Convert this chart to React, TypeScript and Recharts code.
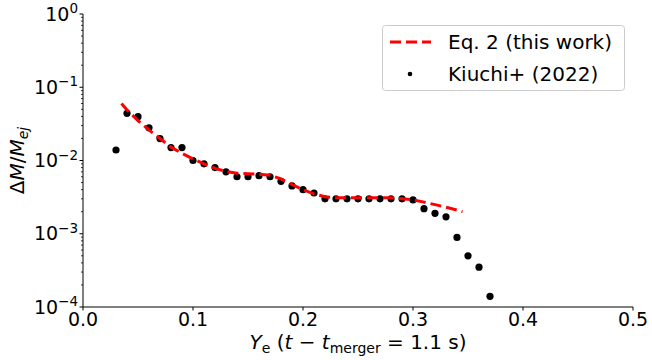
import { ComposedChart, Scatter, XAxis, YAxis, Legend } from 'recharts'

// Kiuchi+ (2022) mass fraction per Ye bin
const kiuchiYe = [
  0.03, 0.04, 0.05, 0.06, 0.07, 0.08, 0.09, 0.1, 0.11, 0.12, 0.13, 0.14, 0.15, 0.16, 0.17, 0.18, 0.19, 0.2,
  0.21, 0.22, 0.23, 0.24, 0.25, 0.26, 0.27, 0.28, 0.29, 0.3, 0.31, 0.32, 0.33, 0.34, 0.35, 0.36, 0.37,
]
const kiuchiFrac = [
  0.0139, 0.044, 0.0396, 0.028, 0.0199, 0.015, 0.015, 0.01, 0.009, 0.008, 0.007, 0.006, 0.006, 0.0062, 0.006,
  0.0052, 0.0045, 0.004, 0.0036, 0.003, 0.003, 0.003, 0.003, 0.003, 0.003, 0.003, 0.003, 0.0029, 0.0022,
  0.0019, 0.0017, 0.00089, 0.0005, 0.00035, 0.00014,
]

// Eq. 2 fit
const fitYe = [
  0.035, 0.04, 0.05, 0.06, 0.07, 0.08, 0.09, 0.1, 0.11, 0.12, 0.13, 0.14, 0.15, 0.16, 0.17, 0.18, 0.19, 0.2,
  0.21, 0.22, 0.23, 0.24, 0.25, 0.26, 0.27, 0.28, 0.29, 0.3, 0.31, 0.32, 0.33, 0.34, 0.345,
]
const fitFrac = [
  0.06, 0.049, 0.035, 0.026, 0.02, 0.0152, 0.0125, 0.0105, 0.009, 0.0078, 0.0071, 0.0067, 0.0066, 0.0065,
  0.0063, 0.0056, 0.0047, 0.004, 0.0035, 0.0032, 0.0031, 0.0031, 0.0031, 0.0031, 0.0031, 0.0031, 0.003, 0.0029,
  0.0027, 0.0025, 0.0023, 0.0021, 0.002,
]

const xTicks = [0, 0.1, 0.2, 0.3, 0.4, 0.5]
const yMajor = [1e-4, 1e-3, 1e-2, 1e-1, 1]
const yTicks = [
  ...yMajor,
  ...[-4, -3, -2, -1].flatMap((e) => [2, 3, 4, 5, 6, 7, 8, 9].map((m) => m * Math.pow(10, e))),
].sort((a, b) => a - b)

const kiuchiData = kiuchiYe.map((x, i) => ({ x, y: kiuchiFrac[i] }))
const fitData = fitYe.map((x, i) => ({ x, y: fitFrac[i] }))

const FONT = '"DejaVu Sans", sans-serif'

const XTick = ({ x, y, payload }: any) => (
  <g>
    <line x1={x} x2={x} y1={y} y2={y + 3.5} stroke="#000" strokeWidth={1} />
    <text x={x} y={y + 19} textAnchor="middle" fontSize={19} fontFamily={FONT} fill="#000">
      {payload.value.toFixed(1)}
    </text>
  </g>
)

const YTick = ({ x, y, payload }: any) => {
  const lg = Math.log10(payload.value)
  const exp = Math.round(lg)
  const major = Math.abs(lg - exp) < 1e-6
  if (!major) return <line x1={x - 2} x2={x} y1={y} y2={y} stroke="#000" strokeWidth={0.8} />
  return (
    <g>
      <line x1={x - 3.5} x2={x} y1={y} y2={y} stroke="#000" strokeWidth={1} />
      <text x={x - 5} y={y + 6.5} textAnchor="end" fontSize={19} fontFamily={FONT} fill="#000">
        10
        <tspan dy={-7.5} fontSize={13.5}>
          {exp < 0 ? `\u2212${-exp}` : `${exp}`}
        </tspan>
      </text>
    </g>
  )
}

const LegendBox = () => (
  <svg width={243} height={66} style={{ display: 'block' }}>
    <rect x={0.5} y={0.5} width={242} height={65} rx={3} fill="#fff" fillOpacity={0.8} stroke="#ccc" />
    <line x1={8} x2={49} y1={17} y2={17} stroke="#ff0000" strokeWidth={3} strokeDasharray="11 5" />
    <text x={66} y={24} fontSize={20} fontFamily={FONT} fill="#000">Eq. 2 (this work)</text>
    <circle cx={28} cy={49} r={2.3} fill="#000" />
    <text x={66} y={56} fontSize={20} fontFamily={FONT} fill="#000">Kiuchi+ (2022)</text>
  </svg>
)

export default function App() {
  return (
    <div style={{ position: 'absolute', left: 0, top: 0, background: '#fff' }}>
      <ComposedChart width={652} height={360} margin={{ top: 14, right: 19, bottom: 0, left: 0 }}>
        <XAxis
          dataKey="x"
          type="number"
          domain={[0, 0.5]}
          ticks={xTicks}
          interval={0}
          tickSize={0}
          tickMargin={0}
          tick={<XTick />}
          height={53}
          axisLine={{ stroke: '#000', strokeWidth: 1 }}
          label={{
            content: ({ viewBox }: any) => (
              <text x={viewBox.x + viewBox.width / 2} y={349} textAnchor="middle" fontSize={20} fontFamily={FONT} fill="#000">
                <tspan fontStyle="italic">Y</tspan>
                <tspan fontSize={14} dy={4}>e</tspan>
                <tspan dy={-4}> (</tspan>
                <tspan fontStyle="italic">t</tspan>
                <tspan> {'\u2212'} </tspan>
                <tspan fontStyle="italic">t</tspan>
                <tspan fontSize={14} dy={4}>merger</tspan>
                <tspan dy={-4}> = 1.1 s)</tspan>
              </text>
            ),
          }}
        />
        <XAxis xAxisId="top" orientation="top" type="number" domain={[0, 0.5]} height={0} tick={false} tickLine={false} axisLine={{ stroke: '#000', strokeWidth: 1 }} />
        <YAxis
          dataKey="y"
          type="number"
          scale="log"
          domain={[1e-4, 1]}
          allowDataOverflow
          ticks={yTicks}
          interval={0}
          tickSize={0}
          tickMargin={0}
          tick={<YTick />}
          width={83}
          axisLine={{ stroke: '#000', strokeWidth: 1 }}
          label={{
            content: ({ viewBox }: any) => {
              const cy = viewBox.y + viewBox.height / 2
              return (
                <text x={24} y={cy} transform={`rotate(-90 24 ${cy})`} textAnchor="middle" fontSize={20} fontFamily={FONT} fill="#000">
                  <tspan>Δ</tspan>
                  <tspan fontStyle="italic">M</tspan>
                  <tspan>/</tspan>
                  <tspan fontStyle="italic">M</tspan>
                  <tspan fontStyle="italic" fontSize={14} dy={4}>ej</tspan>
                </text>
              )
            },
          }}
        />
        <YAxis yAxisId="right" orientation="right" type="number" width={0} tick={false} tickLine={false} axisLine={{ stroke: '#000', strokeWidth: 1 }} />
        <Scatter
          data={kiuchiData}
          dataKey="y"
          isAnimationActive={false}
          shape={(p: any) => <circle cx={p.cx} cy={p.cy} r={3.6} fill="#000" />}
        />
        <Scatter
          data={fitData}
          dataKey="y"
          isAnimationActive={false}
          line={{ stroke: '#ff0000', strokeWidth: 3, strokeDasharray: '11 5' }}
          lineType="joint"
          shape={() => <g />}
        />
        <Legend
          layout="vertical"
          align="center"
          verticalAlign="middle"
          content={() => <LegendBox />}
          wrapperStyle={{ left: 382, top: 25, width: 243, height: 66 }}
        />
      </ComposedChart>
    </div>
  )
}
